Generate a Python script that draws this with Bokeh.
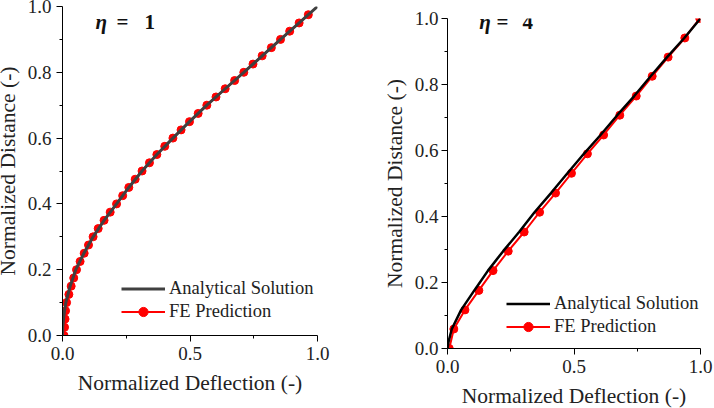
from bokeh.plotting import figure
from bokeh.models import Range1d, Label, Legend, LegendItem, FixedTicker
from bokeh.layouts import row
from bokeh.embed import file_html
from bokeh.resources import INLINE

# ---------------- data: eta = 1 ----------------
an1_y = [0.0, 0.025, 0.05, 0.075, 0.1, 0.15, 0.2, 0.25, 0.3, 0.35, 0.4, 0.45, 0.5,
         0.55, 0.6, 0.65, 0.7, 0.75, 0.8, 0.85, 0.9, 0.95, 1.0]
an1_x = [0.0, 0.001, 0.004, 0.008, 0.013, 0.03, 0.052, 0.084, 0.12, 0.163, 0.212, 0.26, 0.312,
         0.37, 0.433, 0.498, 0.566, 0.638, 0.711, 0.783, 0.855, 0.928, 1.0]
fe1_y = [0.0, 0.025, 0.05, 0.075, 0.1, 0.125, 0.15, 0.175, 0.2, 0.225, 0.25, 0.275, 0.3,
         0.325, 0.35, 0.375, 0.4, 0.425, 0.45, 0.475, 0.5, 0.525, 0.55, 0.575, 0.6, 0.625,
         0.65, 0.675, 0.7, 0.725, 0.75, 0.775, 0.8, 0.825, 0.85, 0.875, 0.9, 0.925, 0.95, 0.975]
fe1_x = [0.006, 0.008, 0.01, 0.012, 0.016, 0.025, 0.034, 0.044, 0.055, 0.069, 0.085, 0.102, 0.12,
         0.14, 0.163, 0.187, 0.212, 0.236, 0.26, 0.285, 0.312, 0.341, 0.37, 0.401, 0.433, 0.465,
         0.498, 0.532, 0.566, 0.602, 0.638, 0.675, 0.711, 0.747, 0.783, 0.819, 0.855, 0.891, 0.928, 0.964]

# ---------------- data: eta = 4 ----------------
an4_y = [0.0, 0.02, 0.059, 0.117, 0.176, 0.236, 0.295, 0.353, 0.413, 0.471, 0.531, 0.59,
         0.647, 0.707, 0.765, 0.825, 0.883, 0.941, 1.0]
an4_x = [0.0, 0.004, 0.017, 0.054, 0.106, 0.16, 0.22, 0.283, 0.344, 0.409, 0.474, 0.539,
         0.605, 0.671, 0.738, 0.803, 0.868, 0.936, 1.0]
fe4_y = [0.0, 0.059, 0.117, 0.176, 0.236, 0.295, 0.353, 0.413, 0.471, 0.531, 0.59,
         0.647, 0.707, 0.765, 0.825, 0.883, 0.941, 1.0]
fe4_x = [0.007, 0.025, 0.069, 0.124, 0.18, 0.24, 0.303, 0.364, 0.427, 0.49, 0.553,
         0.617, 0.681, 0.746, 0.809, 0.872, 0.938, 0.997]

x_ticks = [0.0, 0.5, 1.0]
y_ticks = [0.0, 0.2, 0.4, 0.6, 0.8, 1.0]
x_minor = [0.25, 0.75]
y_minor = [0.1, 0.3, 0.5, 0.7, 0.9]

FONT = "Liberation Serif"
TXT = "#222222"


def make_panel(fw, fh, bl, br, an_x, an_y, an_color, an_width,
               fe_x, fe_y, eta_val, eta_xs, eta_y, leg_x, leg_y, ytick_standoff,
               xlab_standoff, margin):
    p = figure(frame_width=fw, frame_height=fh, output_backend="svg", toolbar_location=None,
               title=None, x_range=Range1d(0, 1), y_range=Range1d(0, 1),
               min_border_left=bl, min_border_right=br, min_border_top=12,
               min_border_bottom=72, margin=margin)
    p.outline_line_color = None
    p.grid.visible = False

    for ax, ticks, minor in ((p.xaxis[0], x_ticks, x_minor), (p.yaxis[0], y_ticks, y_minor)):
        ax.ticker = FixedTicker(ticks=ticks, minor_ticks=minor)
        ax.axis_line_color = "black"
        ax.major_tick_line_color = "black"
        ax.minor_tick_line_color = "black"
        ax.major_tick_out = 6
        ax.major_tick_in = 0
        ax.minor_tick_out = 3
        ax.minor_tick_in = 0
        ax.major_label_text_font = FONT
        ax.major_label_text_font_size = "19px"
        ax.major_label_text_color = TXT
        ax.axis_label_text_font = FONT
        ax.axis_label_text_font_size = "21.5px"
        ax.axis_label_text_font_style = "normal"
        ax.axis_label_text_color = TXT
    p.xaxis[0].major_label_overrides = {0.0: "0.0", 0.5: "0.5", 1.0: "1.0"}
    p.yaxis[0].major_label_overrides = {0.0: "0.0", 0.2: "0.2", 0.4: "0.4", 0.6: "0.6",
                                        0.8: "0.8", 1.0: "1.0"}
    p.xaxis[0].axis_label = "Normalized Deflection (-)"
    p.yaxis[0].axis_label = "Normalized Distance (-)"
    p.xaxis[0].major_label_standoff = 5
    p.xaxis[0].axis_label_standoff = xlab_standoff
    p.yaxis[0].major_label_standoff = ytick_standoff
    p.yaxis[0].axis_label_standoff = 5

    r_fe = p.line(fe_x, fe_y, line_color="#ff0000", line_width=2)
    r_fe_m = p.scatter(fe_x, fe_y, marker="circle", size=8, fill_color="#ff0000",
                       line_color="#ff0000")
    r_an = p.line(an_x, an_y, line_color=an_color, line_width=an_width)

    leg = Legend(items=[LegendItem(label="Analytical Solution", renderers=[r_an]),
                        LegendItem(label="FE Prediction", renderers=[r_fe, r_fe_m])],
                 location=(leg_x, leg_y))
    leg.border_line_color = None
    leg.background_fill_alpha = 0
    leg.padding = 0
    leg.margin = 0
    leg.spacing = 0
    leg.glyph_width = 44
    leg.glyph_height = 23
    leg.label_height = 23
    leg.label_standoff = 4
    leg.label_text_font = FONT
    leg.label_text_font_size = "18.5px"
    leg.label_text_color = TXT
    p.add_layout(leg, "center")

    parts = [("η", "bold italic"), ("=", "bold"), (eta_val, "bold")]
    for (txt, style), xx in zip(parts, eta_xs):
        p.add_layout(Label(x=xx, y=eta_y, text=txt, text_font=FONT,
                           text_font_style=style, text_font_size="21px",
                           text_baseline="middle", text_align="left", text_color="#111111"))
    return p


p1 = make_panel(255, 329, 63, 39, an1_x, an1_y, "#404040", 3,
                fe1_x, fe1_y, "1", [0.129, 0.212, 0.322], 0.954, 59, 12, 5, 8,
                (-6, 0, -14, -8))
p2 = make_panel(253, 330, 91, 13, an4_x, an4_y, "black", 2.5,
                fe4_x, fe4_y, "4", [0.125, 0.194, 0.296], 0.989, 59, 10, 3, 8,
                (6, 0, -26, 0))

layout = row(p1, p2)
open("out.html", "w").write(file_html(layout, INLINE))
